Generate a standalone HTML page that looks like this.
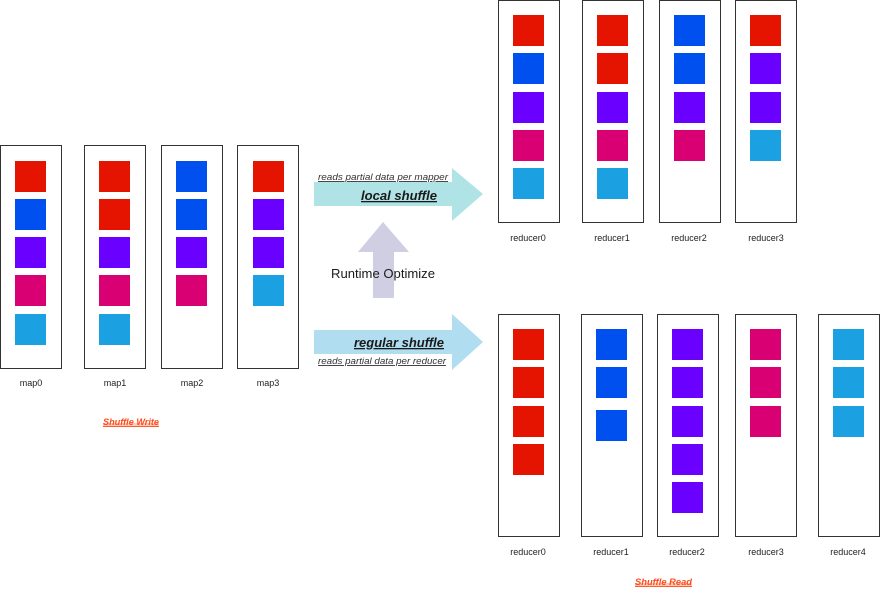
<!DOCTYPE html>
<html><head><meta charset="utf-8"><style>
html,body{margin:0;padding:0;background:#fff;}
svg{display:block;}
text{font-family:"Liberation Sans",Arial,sans-serif;}
</style></head><body>
<svg width="880" height="591" viewBox="0 0 880 591" xmlns="http://www.w3.org/2000/svg">
<rect width="880" height="591" fill="#fff"/>
<g fill="#fff" stroke="#333" stroke-width="1">
<rect x="0.5" y="145.5" width="61" height="223"/>
<rect x="84.5" y="145.5" width="61" height="223"/>
<rect x="161.5" y="145.5" width="61" height="223"/>
<rect x="237.5" y="145.5" width="61" height="223"/>
<rect x="498.5" y="0.5" width="61" height="222"/>
<rect x="582.5" y="0.5" width="61" height="222"/>
<rect x="659.5" y="0.5" width="61" height="222"/>
<rect x="735.5" y="0.5" width="61" height="222"/>
<rect x="498.5" y="314.5" width="61" height="222"/>
<rect x="581.5" y="314.5" width="61" height="222"/>
<rect x="657.5" y="314.5" width="61" height="222"/>
<rect x="735.5" y="314.5" width="61" height="222"/>
<rect x="818.5" y="314.5" width="61" height="222"/>
</g>
<!-- maps -->
<g>
<rect x="15" y="161" width="31" height="31" fill="#e51400"/>
<rect x="15" y="199" width="31" height="31" fill="#0050ef"/>
<rect x="15" y="237" width="31" height="31" fill="#6a00ff"/>
<rect x="15" y="275" width="31" height="31" fill="#d80073"/>
<rect x="15" y="314" width="31" height="31" fill="#1ba1e2"/>
<rect x="99" y="161" width="31" height="31" fill="#e51400"/>
<rect x="99" y="199" width="31" height="31" fill="#e51400"/>
<rect x="99" y="237" width="31" height="31" fill="#6a00ff"/>
<rect x="99" y="275" width="31" height="31" fill="#d80073"/>
<rect x="99" y="314" width="31" height="31" fill="#1ba1e2"/>
<rect x="176" y="161" width="31" height="31" fill="#0050ef"/>
<rect x="176" y="199" width="31" height="31" fill="#0050ef"/>
<rect x="176" y="237" width="31" height="31" fill="#6a00ff"/>
<rect x="176" y="275" width="31" height="31" fill="#d80073"/>
<rect x="253" y="161" width="31" height="31" fill="#e51400"/>
<rect x="253" y="199" width="31" height="31" fill="#6a00ff"/>
<rect x="253" y="237" width="31" height="31" fill="#6a00ff"/>
<rect x="253" y="275" width="31" height="31" fill="#1ba1e2"/>
</g>
<!-- top reducers -->
<g>
<rect x="513" y="15" width="31" height="31" fill="#e51400"/>
<rect x="513" y="53" width="31" height="31" fill="#0050ef"/>
<rect x="513" y="92" width="31" height="31" fill="#6a00ff"/>
<rect x="513" y="130" width="31" height="31" fill="#d80073"/>
<rect x="513" y="168" width="31" height="31" fill="#1ba1e2"/>
<rect x="597" y="15" width="31" height="31" fill="#e51400"/>
<rect x="597" y="53" width="31" height="31" fill="#e51400"/>
<rect x="597" y="92" width="31" height="31" fill="#6a00ff"/>
<rect x="597" y="130" width="31" height="31" fill="#d80073"/>
<rect x="597" y="168" width="31" height="31" fill="#1ba1e2"/>
<rect x="674" y="15" width="31" height="31" fill="#0050ef"/>
<rect x="674" y="53" width="31" height="31" fill="#0050ef"/>
<rect x="674" y="92" width="31" height="31" fill="#6a00ff"/>
<rect x="674" y="130" width="31" height="31" fill="#d80073"/>
<rect x="750" y="15" width="31" height="31" fill="#e51400"/>
<rect x="750" y="53" width="31" height="31" fill="#6a00ff"/>
<rect x="750" y="92" width="31" height="31" fill="#6a00ff"/>
<rect x="750" y="130" width="31" height="31" fill="#1ba1e2"/>
</g>
<!-- bottom reducers -->
<g>
<rect x="513" y="329" width="31" height="31" fill="#e51400"/>
<rect x="513" y="367" width="31" height="31" fill="#e51400"/>
<rect x="513" y="406" width="31" height="31" fill="#e51400"/>
<rect x="513" y="444" width="31" height="31" fill="#e51400"/>
<rect x="596" y="329" width="31" height="31" fill="#0050ef"/>
<rect x="596" y="367" width="31" height="31" fill="#0050ef"/>
<rect x="596" y="410" width="31" height="31" fill="#0050ef"/>
<rect x="672" y="329" width="31" height="31" fill="#6a00ff"/>
<rect x="672" y="367" width="31" height="31" fill="#6a00ff"/>
<rect x="672" y="406" width="31" height="31" fill="#6a00ff"/>
<rect x="672" y="444" width="31" height="31" fill="#6a00ff"/>
<rect x="672" y="482" width="31" height="31" fill="#6a00ff"/>
<rect x="750" y="329" width="31" height="31" fill="#d80073"/>
<rect x="750" y="367" width="31" height="31" fill="#d80073"/>
<rect x="750" y="406" width="31" height="31" fill="#d80073"/>
<rect x="833" y="329" width="31" height="31" fill="#1ba1e2"/>
<rect x="833" y="367" width="31" height="31" fill="#1ba1e2"/>
<rect x="833" y="406" width="31" height="31" fill="#1ba1e2"/>
</g>
<!-- arrows -->
<polygon points="314,182 452,182 452,168 483,194 452,221 452,206 314,206" fill="#b0e3e6"/>
<polygon points="314,330 452,330 452,314 483,342 452,370 452,354 314,354" fill="#b1ddf0"/>
<polygon points="373,298 373,252 358,252 383,222 409,252 394,252 394,298" fill="#d0cee2"/>
<!-- label backgrounds -->
<rect x="316" y="170" width="135" height="12" fill="#fff"/>
<rect x="316" y="355" width="133" height="12" fill="#fff"/>
<g fill="#333" font-size="9" font-style="italic" text-decoration="underline">
<text x="318" y="180" textLength="130" lengthAdjust="spacingAndGlyphs">reads partial data per mapper</text>
<text x="318" y="364" textLength="128" lengthAdjust="spacingAndGlyphs">reads partial data per reducer</text>
</g>
<g fill="#1a1a1a" font-size="13" font-style="italic" font-weight="bold" text-decoration="underline">
<text x="361" y="200" textLength="76" lengthAdjust="spacingAndGlyphs">local shuffle</text>
<text x="354" y="347" textLength="90" lengthAdjust="spacingAndGlyphs">regular shuffle</text>
</g>
<text x="331" y="278" font-size="13" fill="#1a1a1a" textLength="104" lengthAdjust="spacingAndGlyphs">Runtime Optimize</text>
<g fill="#222" font-size="9" text-anchor="middle">
<text x="31" y="386">map0</text>
<text x="115" y="386">map1</text>
<text x="192" y="386">map2</text>
<text x="268" y="386">map3</text>
<text x="528" y="241">reducer0</text>
<text x="612" y="241">reducer1</text>
<text x="689" y="241">reducer2</text>
<text x="766" y="241">reducer3</text>
<text x="528" y="555">reducer0</text>
<text x="611" y="555">reducer1</text>
<text x="687" y="555">reducer2</text>
<text x="766" y="555">reducer3</text>
<text x="848" y="555">reducer4</text>
</g>
<rect x="103" y="423" width="56" height="3" fill="#ffc9b5"/>
<rect x="635" y="583" width="57" height="3" fill="#ffc9b5"/>
<g fill="#ff4a1c" font-size="9" font-style="italic" font-weight="bold" text-decoration="underline">
<text x="103" y="425" textLength="56" lengthAdjust="spacingAndGlyphs">Shuffle Write</text>
<text x="635" y="585" textLength="57" lengthAdjust="spacingAndGlyphs">Shuffle Read</text>
</g>
</svg>
</body></html>
